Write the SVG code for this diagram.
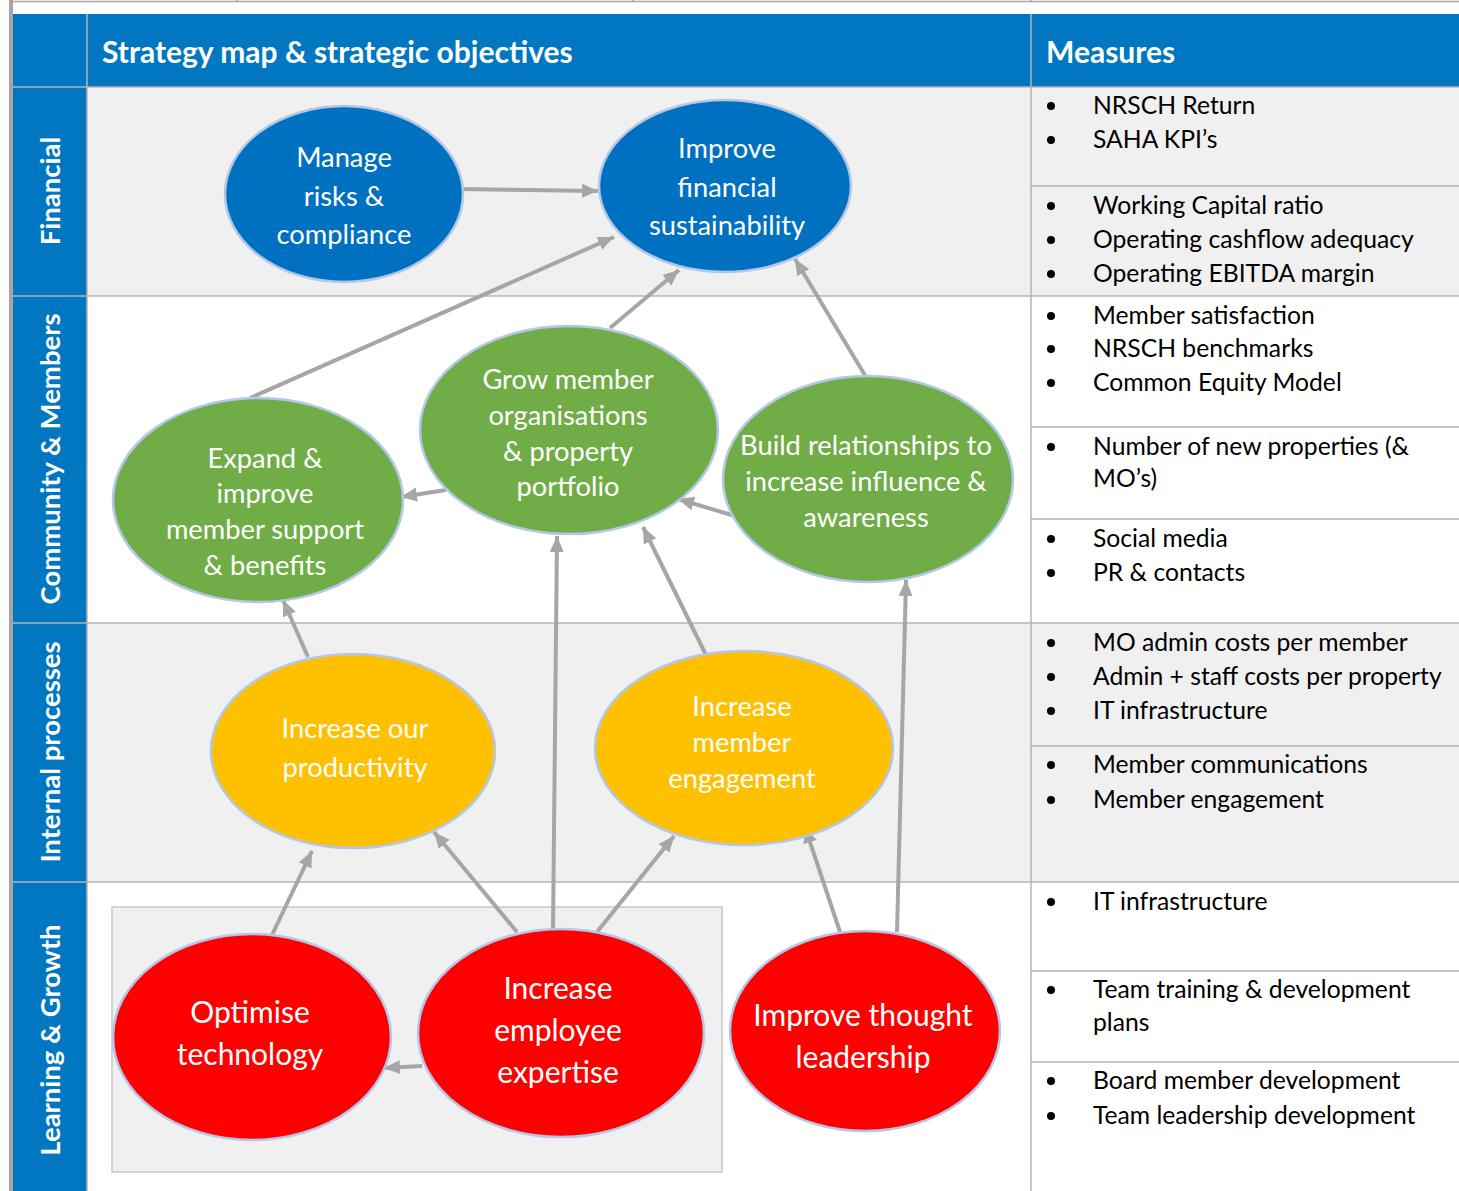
<svg xmlns="http://www.w3.org/2000/svg" width="1459" height="1191" viewBox="0 0 1459 1191">
<defs>
<marker id="ah" markerUnits="userSpaceOnUse" markerWidth="18" markerHeight="16" refX="16" refY="7" orient="auto">
<path d="M0,0 L16,7 L0,14 z" fill="#a6a6a6"/>
</marker>
<style>
.grid{stroke:#b4b4b4;stroke-width:1.5;fill:none}
.hdr{font-family:Lato,"Liberation Sans",sans-serif;font-weight:bold;font-size:30px;fill:#fff}
.side{font-family:Lato,"Liberation Sans",sans-serif;font-weight:bold;font-size:27.5px;fill:#fff}
.ms{font-family:Lato,"Liberation Sans",sans-serif;font-size:24.7px;fill:#000}
.bul{fill:#000}
.node ellipse{stroke:#b4c7e7;stroke-width:2.5}
.nt{font-family:Lato,"Liberation Sans",sans-serif;font-size:27.3px;fill:#fff;text-anchor:middle}
.nt2{font-family:Lato,"Liberation Sans",sans-serif;font-size:30px;fill:#fff;text-anchor:middle}
.con line{stroke:#a6a6a6;stroke-width:4;marker-end:url(#ah)}
</style>
</defs>
<rect x="0" y="0" width="1459" height="1191" fill="#fff"/>
<!-- top thin row -->
<line x1="13" y1="1.5" x2="1459" y2="1.5" stroke="#a6a6a6" stroke-width="1.5"/>
<line x1="237" y1="0" x2="237" y2="2" stroke="#a6a6a6" stroke-width="1.5"/>
<line x1="633" y1="0" x2="633" y2="2" stroke="#a6a6a6" stroke-width="1.5"/>
<line x1="1031" y1="0" x2="1031" y2="2" stroke="#a6a6a6" stroke-width="1.5"/>
<!-- left gray strip -->
<rect x="9" y="0" width="4" height="1191" fill="#a6a6a6"/>
<!-- row backgrounds -->
<rect x="87" y="87" width="1372" height="209" fill="#f0f0f0"/>
<rect x="87" y="623" width="1372" height="259" fill="#f0f0f0"/>
<!-- header & left column -->
<rect x="13" y="14" width="1446" height="73" fill="#0077c0"/>
<rect x="13" y="14" width="74" height="1177" fill="#0077c0"/>
<!-- grid lines -->
<g class="grid">
<line x1="87" y1="14" x2="87" y2="1191"/>
<line x1="1031" y1="14" x2="1031" y2="1191"/>
<line x1="13" y1="87" x2="1459" y2="87"/>
<line x1="13" y1="296" x2="1459" y2="296"/>
<line x1="13" y1="623" x2="1459" y2="623"/>
<line x1="13" y1="882" x2="1459" y2="882"/>
<line x1="1031" y1="186" x2="1459" y2="186"/>
<line x1="1031" y1="427" x2="1459" y2="427"/>
<line x1="1031" y1="519" x2="1459" y2="519"/>
<line x1="1031" y1="746" x2="1459" y2="746"/>
<line x1="1031" y1="971" x2="1459" y2="971"/>
<line x1="1031" y1="1062" x2="1459" y2="1062"/>
</g>
<!-- headers -->
<text class="hdr" x="102" y="63">Strategy map &amp; strategic objectives</text>
<text class="hdr" x="1046" y="63">Measures</text>
<!-- side labels -->
<text class="side" text-anchor="middle" transform="translate(60,191) rotate(-90)">Financial</text>
<text class="side" text-anchor="middle" transform="translate(60,459) rotate(-90)">Community &amp; Members</text>
<text class="side" text-anchor="middle" transform="translate(60,752) rotate(-90)">Internal processes</text>
<text class="side" text-anchor="middle" transform="translate(60,1040) rotate(-90)">Learning &amp; Growth</text>
<!-- measures -->
<g id="measures">
<g class="bul">
<circle cx="1051" cy="106" r="4"/><circle cx="1051" cy="140" r="4"/>
<circle cx="1051" cy="206" r="4"/><circle cx="1051" cy="240" r="4"/><circle cx="1051" cy="274" r="4"/>
<circle cx="1051" cy="316" r="4"/><circle cx="1051" cy="349" r="4"/><circle cx="1051" cy="383" r="4"/>
<circle cx="1051" cy="447" r="4"/>
<circle cx="1051" cy="539" r="4"/><circle cx="1051" cy="573" r="4"/>
<circle cx="1051" cy="643" r="4"/><circle cx="1051" cy="677" r="4"/><circle cx="1051" cy="711" r="4"/>
<circle cx="1051" cy="765" r="4"/><circle cx="1051" cy="800" r="4"/>
<circle cx="1051" cy="902" r="4"/>
<circle cx="1051" cy="990" r="4"/>
<circle cx="1051" cy="1081" r="4"/><circle cx="1051" cy="1116" r="4"/>
</g>
<text class="ms" x="1093" y="114">NRSCH Return</text>
<text class="ms" x="1093" y="148">SAHA KPI’s</text>
<text class="ms" x="1093" y="214">Working Capital ratio</text>
<text class="ms" x="1093" y="248">Operating cashflow adequacy</text>
<text class="ms" x="1093" y="282">Operating EBITDA margin</text>
<text class="ms" x="1093" y="324">Member satisfaction</text>
<text class="ms" x="1093" y="357">NRSCH benchmarks</text>
<text class="ms" x="1093" y="391">Common Equity Model</text>
<text class="ms" x="1093" y="455">Number of new properties (&amp;</text>
<text class="ms" x="1093" y="487">MO’s)</text>
<text class="ms" x="1093" y="547">Social media</text>
<text class="ms" x="1093" y="581">PR &amp; contacts</text>
<text class="ms" x="1093" y="651">MO admin costs per member</text>
<text class="ms" x="1093" y="685">Admin + staff costs per property</text>
<text class="ms" x="1093" y="719">IT infrastructure</text>
<text class="ms" x="1093" y="773">Member communications</text>
<text class="ms" x="1093" y="808">Member engagement</text>
<text class="ms" x="1093" y="910">IT infrastructure</text>
<text class="ms" x="1093" y="998">Team training &amp; development</text>
<text class="ms" x="1093" y="1031">plans</text>
<text class="ms" x="1093" y="1089">Board member development</text>
<text class="ms" x="1093" y="1124">Team leadership development</text>
</g>
<!-- gray box behind learning nodes -->
<rect x="112" y="907" width="610" height="265" fill="#f0f0f0" stroke="#c8c8c8" stroke-width="1.5"/>
<!-- connectors -->
<g id="connectors" class="con">
<line x1="458" y1="189" x2="598" y2="191"/>
<line x1="250" y1="398" x2="614" y2="237"/>
<line x1="610" y1="328" x2="679" y2="270"/>
<line x1="866" y1="377" x2="795" y2="259"/>
<line x1="446" y1="490" x2="401" y2="497"/>
<line x1="735" y1="516" x2="678" y2="499"/>
<line x1="308" y1="657" x2="283" y2="600"/>
<line x1="553" y1="930" x2="557" y2="536"/>
<line x1="706" y1="655" x2="643" y2="527"/>
<line x1="897" y1="932" x2="906" y2="580"/>
<line x1="272" y1="935" x2="312" y2="851"/>
<line x1="517" y1="932" x2="434" y2="832"/>
<line x1="597" y1="932" x2="674" y2="836"/>
<line x1="840" y1="932" x2="805" y2="827"/>
<line x1="422" y1="1066" x2="384" y2="1068"/>
</g>
<!-- nodes -->
<g id="n-manage" class="node">
<ellipse cx="344" cy="194" rx="119" ry="88" fill="#0070c0"/>
<text class="nt" x="344" y="167">Manage</text>
<text class="nt" x="344" y="206">risks &amp;</text>
<text class="nt" x="344" y="244">compliance</text>
</g>
<g id="n-finance" class="node">
<ellipse cx="725" cy="186" rx="126" ry="86" fill="#0070c0"/>
<text class="nt" x="727" y="158">Improve</text>
<text class="nt" x="727" y="197">financial</text>
<text class="nt" x="727" y="235">sustainability</text>
</g>
<g id="n-grow" class="node">
<ellipse cx="569" cy="430" rx="149" ry="104" fill="#70ad47"/>
<text class="nt" x="568" y="389">Grow member</text>
<text class="nt" x="568" y="425">organisations</text>
<text class="nt" x="568" y="461">&amp; property</text>
<text class="nt" x="568" y="496">portfolio</text>
</g>
<g id="n-expand" class="node">
<ellipse cx="258" cy="500" rx="145" ry="102" fill="#70ad47"/>
<text class="nt" x="265" y="468">Expand &amp;</text>
<text class="nt" x="265" y="503">improve</text>
<text class="nt" x="265" y="539">member support</text>
<text class="nt" x="265" y="575">&amp; benefits</text>
</g>
<g id="n-build" class="node">
<ellipse cx="868" cy="479" rx="145" ry="103" fill="#70ad47"/>
<text class="nt" x="866" y="455">Build relationships to</text>
<text class="nt" x="866" y="491">increase influence &amp;</text>
<text class="nt" x="866" y="527">awareness</text>
</g>
<g id="n-productivity" class="node">
<ellipse cx="353" cy="751" rx="142" ry="97" fill="#ffc000"/>
<text class="nt" x="355" y="738">Increase our</text>
<text class="nt" x="355" y="777">productivity</text>
</g>
<g id="n-engagement" class="node">
<ellipse cx="744" cy="748" rx="149" ry="97" fill="#ffc000"/>
<text class="nt" x="742" y="716">Increase</text>
<text class="nt" x="742" y="752">member</text>
<text class="nt" x="742" y="788">engagement</text>
</g>
<g id="n-technology" class="node">
<ellipse cx="252" cy="1037" rx="139" ry="103" fill="#ff0000"/>
<text class="nt2" x="250" y="1023">Optimise</text>
<text class="nt2" x="250" y="1065">technology</text>
</g>
<g id="n-expertise" class="node">
<ellipse cx="561" cy="1033" rx="143" ry="104" fill="#ff0000"/>
<text class="nt2" x="558" y="999">Increase</text>
<text class="nt2" x="558" y="1041">employee</text>
<text class="nt2" x="558" y="1083">expertise</text>
</g>
<g id="n-thought" class="node">
<ellipse cx="865" cy="1031" rx="135" ry="100" fill="#ff0000"/>
<text class="nt2" x="863" y="1026">Improve thought</text>
<text class="nt2" x="863" y="1068">leadership</text>
</g>
</svg>
